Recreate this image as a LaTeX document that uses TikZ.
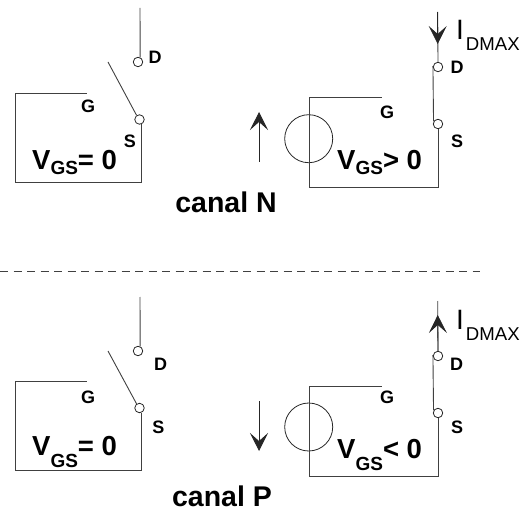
\documentclass[tikz,border=0pt]{standalone}
\usepackage{fontspec}
\setmainfont{Liberation Sans}
\usetikzlibrary{arrows.meta}
\tikzset{
  wire/.style={line width=0.9pt,draw=black!75},
  pin/.style={circle,draw=black!85,line width=0.8pt,fill=white,inner sep=0pt,minimum size=9.5pt},
  src/.style={circle,draw=black!85,line width=0.8pt,inner sep=0pt,minimum size=48pt},
  volt/.style={line width=0.8pt,draw=black!85,-{Stealth[length=18pt,width=18pt,inset=8pt]}},
  term/.style={font=\fontsize{18}{18}\selectfont\bfseries,inner sep=0pt,anchor=base},
  gate/.style={font=\fontsize{27.5}{27.5}\selectfont\bfseries,inner sep=0pt,anchor=base west},
  capt/.style={font=\fontsize{28.5}{28.5}\selectfont\bfseries,inner sep=0pt,anchor=base},
  curr/.style={font=\fontsize{28}{28}\selectfont,inner sep=0pt,anchor=base west}
}
\newcommand{\GS}[1]{\raisebox{#1}{\fontsize{19}{19}\selectfont GS}}
\newcommand{\DMAX}{\kern2pt\raisebox{-11pt}{\fontsize{18.6}{18.6}\selectfont DMAX}}
\begin{document}
\begin{tikzpicture}[x=1pt,y=-1pt]
  \useasboundingbox (0,0) rectangle (521,510);
  % canal N, open
  %pins
  \node[pin] (dNo) at (138,62) {};
  \node[pin] (sNo) at (139.5,119.5) {};
  \coordinate (topNo) at (140,8);
  \coordinate (armNo) at (108,62);
  \coordinate (boxNo) at (15,182);
  \coordinate (endNo) at (87,93);
  %edges
  \draw[wire] (topNo) -- (dNo.65);
  \draw[wire] (armNo) -- (sNo.125);
  \draw[wire] (sNo.-65) |- (boxNo) |- (endNo);
  %labels
  \node[term,at={(155,64)}] (lbDNo) {D};
  \node[term,at={(88,113)}] (lbGNo) {G};
  \node[term,at={(130,148)}] (lbSNo) {S};
  \node[gate,at={(32,170)}] (vgsNo) {V\GS{-5pt}= 0};

  % canal N, closed
  %pins
  \node[pin] (dNc) at (438,67) {};
  \node[pin] (sNc) at (438,124) {};
  \node[src] (srcN) at (308.7,138.7) {};
  \coordinate (topNc) at (437.7,12);
  \coordinate (tipNc) at (437.7,44);
  \coordinate (boxNc) at (309,187);
  \coordinate (endNc) at (382,97.5);
  \coordinate (tailN) at (259,162);
  \coordinate (headN) at (259,112);
  %edges
  \draw[wire] (topNc) -- (dNc.north);
  \draw[volt] (topNc) -- (tipNc);
  \draw[wire] (dNc.170) -- (sNc.150);
  \draw[wire] (sNc.south) |- (boxNc) |- (endNc);
  \draw[volt] (tailN) -- (headN);
  %labels
  \node[term,at={(457,73.5)}] (lbDNc) {D};
  \node[term,at={(387,118.5)}] (lbGNc) {G};
  \node[term,at={(457,148)}] (lbSNc) {S};
  \node[gate,at={(337,170)}] (vgsNc) {V\GS{-5pt}> 0};
  \node[curr,at={(456,40)}] (imaxN) {I\DMAX};
  \node[capt,at={(226,212.7)}] (capN) {canal N};

  % separator
  \coordinate (sepL) at (0,271);
  \coordinate (sepR) at (480,271);
  \draw[line width=0.7pt,draw=black!75,dash pattern=on 8pt off 5.5pt] (sepL) -- (sepR);

  % canal P, open
  %pins
  \node[pin] (dPo) at (138,351) {};
  \node[pin] (sPo) at (139.5,408) {};
  \coordinate (topPo) at (140,297);
  \coordinate (armPo) at (108,351);
  \coordinate (boxPo) at (15,470.5);
  \coordinate (endPo) at (87,381.5);
  %edges
  \draw[wire] (topPo) -- (dPo.65);
  \draw[wire] (armPo) -- (sPo.125);
  \draw[wire] (sPo.-65) |- (boxPo) |- (endPo);
  %labels
  \node[term,at={(160.5,370)}] (lbDPo) {D};
  \node[term,at={(88,403)}] (lbGPo) {G};
  \node[term,at={(158.5,433)}] (lbSPo) {S};
  \node[gate,at={(32,455)}] (vgsPo) {V\GS{-12pt}= 0};

  % canal P, closed
  %pins
  \node[pin] (dPc) at (438,356) {};
  \node[pin] (sPc) at (438,413) {};
  \node[src] (srcP) at (308.7,427) {};
  \coordinate (topPc) at (437.7,301);
  \coordinate (tipPc) at (437.7,315);
  \coordinate (boxPc) at (309,476);
  \coordinate (endPc) at (382,386);
  \coordinate (tailP) at (259,401);
  \coordinate (headP) at (259,451);
  %edges
  \draw[wire] (topPc) -- (dPc.north);
  \draw[volt] (dPc.north) -- (tipPc);
  \draw[wire] (dPc.170) -- (sPc.150);
  \draw[wire] (sPc.south) |- (boxPc) |- (endPc);
  \draw[volt] (tailP) -- (headP);
  %labels
  \node[term,at={(456.7,370)}] (lbDPc) {D};
  \node[term,at={(387,403)}] (lbGPc) {G};
  \node[term,at={(457,433)}] (lbSPc) {S};
  \node[gate,at={(337,458)}] (vgsPc) {V\GS{-12pt}< 0};
  \node[curr,at={(456,329)}] (imaxP) {I\DMAX};
  \node[capt,at={(222,506)}] (capP) {canal P};
\end{tikzpicture}
\end{document}
